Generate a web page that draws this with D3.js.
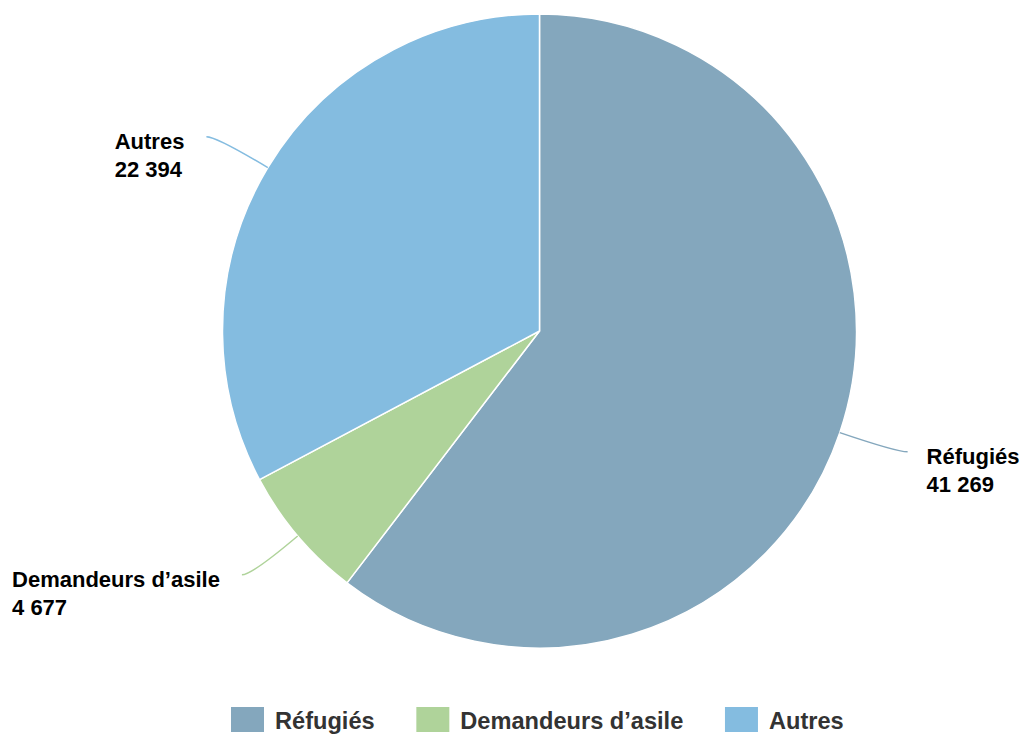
<!DOCTYPE html>
<html>
<head>
<meta charset="utf-8">
<script src="https://cdn.jsdelivr.net/npm/d3@7/dist/d3.min.js"></script>
<style>
  html, body { margin: 0; padding: 0; background: #fff; }
  svg { display: block; font-family: "Liberation Sans", Arial, sans-serif; }
</style>
</head>
<body>
<svg id="chart" width="1023" height="734"></svg>
<script>
const categories = ["Réfugiés", "Demandeurs d’asile", "Autres"];
const values = [41269, 4677, 22394];
const valueLabels = ["41 269", "4 677", "22 394"];
const colors = ["#84a7bd", "#afd39a", "#84bce0"];

const svg = d3.select("#chart");
const cx = 539.5, cy = 331, r = 317;
const labelDist = 60;

const data = categories.map((c, i) => ({ name: c, value: values[i], label: valueLabels[i], color: colors[i] }));
const pie = d3.pie().value(d => d.value).sort(null);
const arcs = pie(data);
const arc = d3.arc().innerRadius(0).outerRadius(r);

const g = svg.append("g").attr("transform", `translate(${cx},${cy})`);
g.selectAll("path.slice").data(arcs).enter().append("path")
  .attr("class", "slice")
  .attr("d", arc)
  .attr("fill", d => d.data.color)
  .attr("stroke", "#ffffff")
  .attr("stroke-width", 1.5)
  .attr("stroke-linejoin", "round");

// labels + connectors
arcs.forEach(a => {
  const mid = (a.startAngle + a.endAngle) / 2;
  const s = Math.sin(mid), c = Math.cos(mid);
  const right = s >= 0;
  const x0 = cx + r * s, y0 = cy - r * c;
  const xc = cx + (r + labelDist) * s, yc = cy - (r + labelDist) * c;
  const xe = xc + (right ? 11 : -10);
  svg.append("path")
    .attr("d", `M${x0},${y0} Q${xc},${yc} ${xe},${yc}`)
    .attr("fill", "none")
    .attr("stroke", a.data.color)
    .attr("stroke-width", 1.5);
  const t = svg.append("text")
    .attr("font-size", 22)
    .attr("font-weight", "bold")
    .attr("fill", "#000");
  const l1 = t.append("tspan").text(a.data.name).attr("y", yc + 12);
  const l2 = t.append("tspan").text(a.data.label).attr("y", yc + 40);
  const w = Math.max(l1.node().getComputedTextLength(), l2.node().getComputedTextLength());
  const tx = right ? xe + 19 : xe - 22 - w;
  l1.attr("x", tx);
  l2.attr("x", tx);
});

// legend
const legend = svg.append("g");
let lx = 231;
const ly = 707;
data.forEach(d => {
  legend.append("rect")
    .attr("x", lx).attr("y", ly)
    .attr("width", 33).attr("height", 25)
    .attr("fill", d.color);
  const tt = legend.append("text")
    .attr("x", lx + 44).attr("y", ly + 21.5)
    .attr("font-size", 23.6)
    .attr("font-weight", "bold")
    .attr("fill", "#333333")
    .text(d.name);
  lx = lx + 44 + tt.node().getComputedTextLength() + 41.7;
});
</script>
</body>
</html>
